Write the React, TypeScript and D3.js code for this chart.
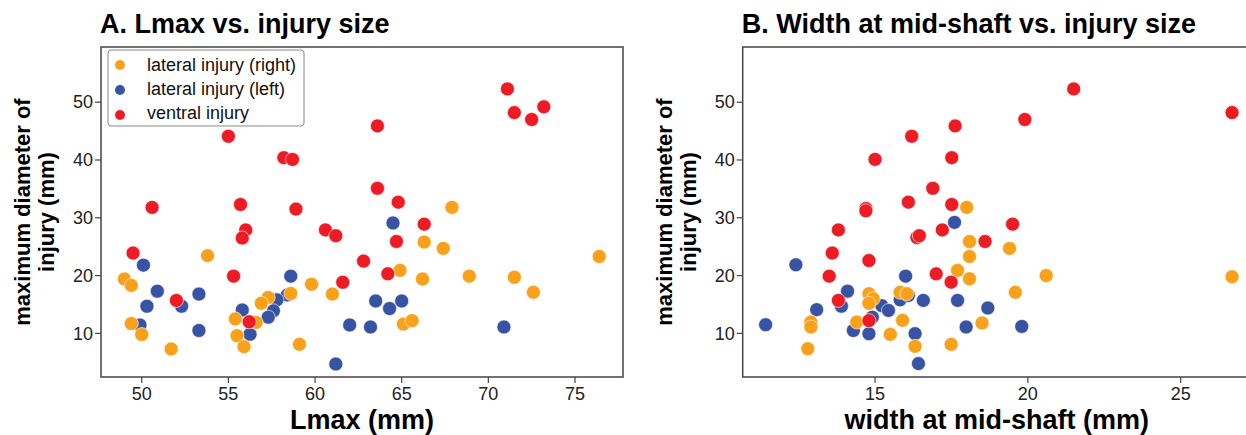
import React from 'react';
import * as d3 from 'd3';

type Pt = [number, number];

// panel A: Lmax (mm) vs max injury diameter (mm)
const lmaxRight: Pt[] = [
  [67.9, 31.8], [66.3, 25.8], [67.4, 24.7], [76.4, 23.3], [64.9, 20.9], [66.2, 19.4],
  [68.9, 19.9], [71.5, 19.7], [72.6, 17.1], [65.1, 11.6], [65.6, 12.2], [53.8, 23.45],
  [49.0, 19.4], [49.4, 18.3], [59.8, 18.5], [61.0, 16.8], [58.6, 16.9], [57.3, 16.2],
  [56.9, 15.2], [55.4, 12.5], [56.6, 11.9], [49.4, 11.7], [50.0, 9.8], [55.5, 9.6],
  [55.9, 7.7], [51.7, 7.3], [59.1, 8.1],
];
const lmaxLeft: Pt[] = [
  [64.5, 29.1], [63.5, 15.6], [64.3, 14.3], [65.0, 15.6], [63.2, 11.1], [70.9, 11.1],
  [50.1, 21.8], [58.6, 19.9], [50.9, 17.3], [53.3, 16.8], [50.3, 14.7], [52.3, 14.7],
  [58.4, 16.65], [57.8, 15.8], [57.6, 13.9], [57.3, 12.8], [55.8, 14.05], [49.9, 11.45],
  [53.3, 10.5], [56.25, 9.84], [61.2, 4.7], [62.0, 11.45],
];
const lmaxVentral: Pt[] = [
  [55.0, 44.1], [58.2, 40.4], [58.7, 40.1], [50.6, 31.8], [55.7, 32.3], [58.9, 31.5],
  [56.0, 27.9], [55.8, 26.5], [60.6, 27.9], [61.2, 26.9], [71.1, 52.3], [71.5, 48.2],
  [72.5, 47.0], [73.2, 49.2], [63.6, 45.9], [63.6, 35.1], [64.8, 32.7], [66.3, 28.9],
  [64.7, 25.9], [62.8, 22.5], [64.2, 20.3], [49.5, 23.9], [55.3, 19.9], [61.6, 18.85],
  [52.0, 15.7], [56.2, 12.0],
];

// panel B: width at mid-shaft (mm) vs max injury diameter (mm)
const widthRight: Pt[] = [
  [18.0, 31.8], [18.09, 25.9], [18.09, 23.3], [17.7, 20.9], [18.09, 19.45], [14.8, 16.86],
  [14.94, 16.0], [14.8, 15.2], [15.82, 17.1], [16.04, 16.86], [12.9, 11.95], [12.9, 11.1],
  [14.4, 11.95], [15.5, 9.83], [15.9, 12.25], [16.31, 7.75], [12.8, 7.35], [17.49, 8.1],
  [18.5, 11.8], [19.4, 24.7], [20.6, 20.0], [26.68, 19.8], [19.59, 17.1],
];
const widthLeft: Pt[] = [
  [17.6, 29.2], [12.41, 21.86], [16.0, 19.9], [14.1, 17.3], [13.09, 14.1], [13.9, 14.7],
  [15.22, 14.8], [15.44, 13.97], [15.82, 15.8], [16.09, 16.56], [16.58, 15.7], [17.7, 15.7],
  [18.69, 14.4], [11.42, 11.5], [14.29, 10.5], [14.91, 12.8], [14.8, 9.94], [16.31, 9.95],
  [16.42, 4.77], [17.98, 11.1], [19.8, 11.2],
];
const widthVentral: Pt[] = [
  [17.62, 45.9], [16.2, 44.1], [15.0, 40.1], [17.51, 40.4], [16.89, 35.1], [16.09, 32.7],
  [14.7, 31.6], [14.7, 31.2], [17.51, 32.3], [13.8, 27.9], [17.2, 27.9], [16.37, 26.6],
  [16.45, 26.9], [21.5, 52.3], [19.9, 47.0], [26.68, 48.2], [19.5, 28.9], [18.6, 25.9],
  [13.6, 23.9], [14.8, 22.6], [13.5, 19.9], [17.0, 20.3], [17.49, 18.86], [13.8, 15.7],
  [14.8, 12.2],
];

const legendLabels = ['lateral injury (right)', 'lateral injury (left)', 'ventral injury'];
const colors = ['#f9a11b', '#3853a4', '#ed1c24'];
const yTicks = [10, 20, 30, 40, 50];
const lmaxTicks = [50, 55, 60, 65, 70, 75];
const widthTicks = [15, 20, 25];

const W = 1246;
const H = 435;
const TOP = 47;
const BOTTOM = 377;
const font = 'Liberation Sans, Arial, sans-serif';

type PanelProps = {
  title: string;
  xLabel: string;
  left: number;
  right: number;
  xDomain: [number, number];
  xTicks: number[];
  series: Pt[][];
  legend?: boolean;
};

const Panel = ({ title, xLabel, left, right, xDomain, xTicks, series, legend }: PanelProps) => {
  const x = d3.scaleLinear().domain(xDomain).range([left, right]);
  const y = d3.scaleLinear().domain([2.45, 59.55]).range([BOTTOM, TOP]);
  const midY = (TOP + BOTTOM) / 2;
  // draw order: blue, orange, red (red on top)
  const order = [1, 0, 2];

  return (
    <g fontFamily={font}>
      <text x={left - 1} y={33} fontSize={27} fontWeight="bold" fill="#000">{title}</text>
      <rect x={left} y={TOP} width={right - left} height={BOTTOM - TOP}
        fill="none" stroke="#444" strokeWidth={1.5} />
      {yTicks.map(t => (
        <g key={'y' + t}>
          <line x1={left - 6} x2={left} y1={y(t)} y2={y(t)} stroke="#444" strokeWidth={1.2} />
          <text x={left - 8} y={y(t)} dy="0.35em" textAnchor="end" fontSize={18} fill="#222">{t}</text>
        </g>
      ))}
      {xTicks.map(t => (
        <g key={'x' + t}>
          <line x1={x(t)} x2={x(t)} y1={BOTTOM} y2={BOTTOM + 6} stroke="#444" strokeWidth={1.2} />
          <text x={x(t)} y={400} textAnchor="middle" fontSize={18} fill="#222">{t}</text>
        </g>
      ))}
      <text x={(left + right) / 2} y={429} textAnchor="middle" fontSize={27} fontWeight="bold">{xLabel}</text>
      <text transform={`translate(${left - 71},${midY}) rotate(-90)`} textAnchor="middle"
        fontSize={22} fontWeight="bold">maximum diameter of</text>
      <text transform={`translate(${left - 47},${midY}) rotate(-90)`} textAnchor="middle"
        fontSize={22} fontWeight="bold">injury (mm)</text>
      {order.map(i => (
        <g key={'s' + i}>
          {series[i].map((d, j) => (
            <circle key={j} cx={x(d[0])} cy={y(d[1])} r={7} fill={colors[i]}
              stroke="#fff" strokeWidth={0.6} />
          ))}
        </g>
      ))}
      {legend && (
        <g>
          <rect x={left + 7} y={50} width={196} height={76} rx={3} fill="#fff"
            stroke="#888" strokeWidth={1} />
          {legendLabels.map((l, i) => (
            <g key={l}>
              <circle cx={left + 19} cy={65 + i * 25} r={5} fill={colors[i]} />
              <text x={left + 46} y={65 + i * 24} dy="0.35em" fontSize={18} fill="#111">{l}</text>
            </g>
          ))}
        </g>
      )}
    </g>
  );
};

export default function App() {
  return (
    <svg width={W} height={H} style={{ position: 'absolute', left: 0, top: 0, background: '#fff' }}>
      <rect width={W} height={H} fill="#fff" />
      <Panel title="A. Lmax vs. injury size" xLabel="Lmax (mm)" left={101} right={623}
        xDomain={[47.65, 77.77]} xTicks={lmaxTicks}
        series={[lmaxRight, lmaxLeft, lmaxVentral]} legend />
      <Panel title="B. Width at mid-shaft vs. injury size" xLabel="width at mid-shaft (mm)"
        left={742.7} right={1251} xDomain={[10.67, 27.3]} xTicks={widthTicks}
        series={[widthRight, widthLeft, widthVentral]} />
    </svg>
  );
}
